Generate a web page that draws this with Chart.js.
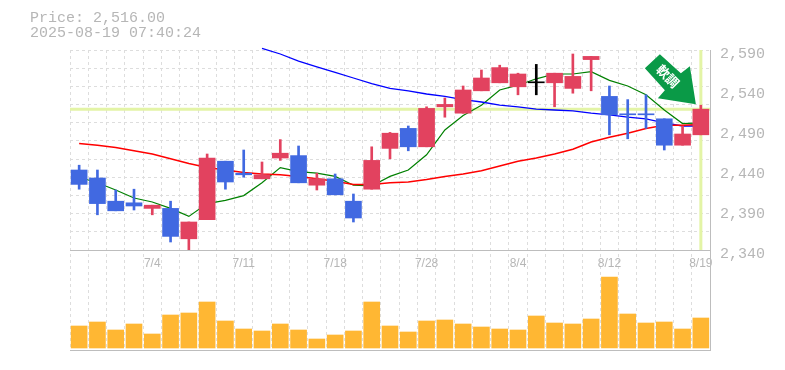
<!DOCTYPE html>
<html>
<head>
<meta charset="utf-8">
<title>Price chart</title>
<script src="https://cdn.jsdelivr.net/npm/chart.js@4"></script>
<style>
  html, body { margin: 0; padding: 0; background: #fff; }
  canvas { display: block; }
</style>
</head>
<body>
<canvas id="priceChart" width="785" height="370"></canvas>
<script>
const titleLines = ["Price: 2,516.00", "2025-08-19 07:40:24"];
const signalText = "軟調";

const dates = ["6/30", "7/1", "7/2", "7/3", "7/4", "7/7", "7/8", "7/9", "7/10", "7/11", "7/14", "7/15",
  "7/16", "7/17", "7/18", "7/22", "7/23", "7/24", "7/25", "7/28", "7/29", "7/30", "7/31", "8/1", "8/4",
  "8/5", "8/6", "8/7", "8/8", "8/12", "8/13", "8/14", "8/15", "8/18", "8/19"];
const dateLabels = ["7/4", "7/11", "7/18", "7/28", "8/4", "8/12", "8/19"];

const opens = [2440, 2430, 2401, 2399, 2392, 2392, 2354, 2378, 2451, 2436, 2429, 2455, 2458, 2421, 2429, 2401, 2416,
  2467, 2492, 2469, 2519, 2511, 2539, 2549, 2544, 2549, 2549, 2542, 2578, 2532, 2510, 2510, 2504, 2471, 2484];
const closes = [2422, 2398, 2389, 2395, 2396, 2357, 2375, 2455, 2425, 2434, 2434, 2461, 2424, 2429, 2409, 2380, 2452,
  2486, 2469, 2517, 2522, 2540, 2555, 2568, 2560, 2549, 2561, 2557, 2582, 2509, 2509, 2509, 2471, 2485, 2516];
const highs = [2446, 2440, 2415, 2416, 2396, 2401, 2375, 2460, 2451, 2465, 2450, 2478, 2470, 2436, 2435, 2410, 2469,
  2487, 2495, 2519, 2530, 2545, 2565, 2571, 2561, 2572, 2561, 2585, 2582, 2545, 2528, 2534, 2504, 2495, 2521];
const lows = [2416, 2384, 2389, 2390, 2384, 2350, 2339, 2378, 2416, 2431, 2429, 2452, 2424, 2415, 2409, 2375, 2416,
  2454, 2464, 2469, 2506, 2511, 2539, 2549, 2534, 2534, 2519, 2536, 2539, 2484, 2479, 2492, 2465, 2471, 2484];

const maShort = [2431, 2424, 2415, 2405, 2400, 2392, 2382, 2398, 2402, 2408, 2424, 2443, 2438, 2436, 2432, 2421, 2420,
  2432, 2440, 2459, 2490, 2508, 2521, 2540, 2546, 2554, 2560, 2560, 2563, 2552, 2545, 2534, 2515, 2498, 2499];
const maMid = [2473, 2471, 2468, 2464, 2460, 2454, 2448, 2443, 2440, 2437, 2435, 2434, 2432, 2429, 2426, 2422, 2422,
  2424, 2425, 2428, 2432, 2435, 2439, 2445, 2451, 2455, 2460, 2466, 2475, 2481, 2486, 2492, 2496, 2496, 2497];
const maLong = [null, null, null, null, null, null, null, null, null, null, 2592, 2585, 2576, 2569, 2562, 2555, 2548,
  2542, 2539, 2535, 2532, 2528, 2525, 2521, 2519, 2516, 2515, 2514, 2511, 2509, 2506, 2504, 2499, 2495, 2495];

const volumes = [22, 26, 18, 24, 14, 33, 35, 46, 27, 19, 17, 24, 18, 9, 13, 17, 46, 22,
  16, 27, 28, 24, 21, 19, 18, 32, 25, 24, 29, 71, 34, 25, 26, 19, 30];

const lastPrice = 2516;
const priceTicks = [2340, 2390, 2440, 2490, 2540, 2590];
const gridRows = [0, 1, 2, 3, 4, 5, 6, 7, 8, 9, 10, 11];

const UP = "#e2425f";
const DOWN = "#4169e1";
const TEXT = "#b6b6b6";
const GRID = "#dddddd";
const FRAME = "#bdbdbd";
const GUIDE = "#e3f4a6";

function candleColor(i) {
  if (opens[i] === closes[i]) return "#000000";
  return closes[i] > opens[i] ? UP : DOWN;
}
const candleColors = dates.map((d, i) => candleColor(i));

function setTicks(values) {
  return scale => { scale.ticks = values.map(v => ({ value: v })); };
}

// last price lines and the green signal arrow
const overlayPlugin = {
  id: "overlay",
  beforeDatasetsDraw(chart) {
    const { ctx, chartArea, scales } = chart;
    const py = scales.y.getPixelForValue(lastPrice);
    const px = scales.x.getPixelForValue(dates.length - 1);
    ctx.save();
    ctx.strokeStyle = GUIDE;
    ctx.lineWidth = 3;
    ctx.beginPath();
    ctx.moveTo(chartArea.left, py);
    ctx.lineTo(chartArea.right, py);
    ctx.moveTo(px, scales.y.top);
    ctx.lineTo(px, scales.y.bottom);
    ctx.stroke();
    ctx.restore();
  },
  afterDatasetsDraw(chart) {
    const { ctx, scales } = chart;
    const tipX = scales.x.getPixelForValue(dates.length - 1) - 5;
    const tipY = scales.y.getPixelForValue(lastPrice) - 5;
    const outline = [[0, 0], [-38, -6], [-31, -14], [-51, -36], [-36, -50], [-15, -31], [-6, -38]];
    ctx.save();
    ctx.fillStyle = "#0a9a47";
    ctx.beginPath();
    outline.forEach(p => ctx.lineTo(tipX + p[0], tipY + p[1]));
    ctx.closePath();
    ctx.fill();
    ctx.translate(tipX - 28, tipY - 28);
    ctx.rotate(Math.PI / 4);
    ctx.fillStyle = "#ffffff";
    ctx.font = "bold 13px 'Noto Sans CJK JP'";
    ctx.textAlign = "center";
    ctx.textBaseline = "middle";
    ctx.fillText(signalText, 0, 0);
    ctx.restore();
  }
};

function maDataset(values, color, width, order) {
  return {
    type: "line",
    data: values,
    borderColor: color,
    borderWidth: width,
    pointRadius: 0,
    tension: 0,
    clip: false,
    spanGaps: false,
    yAxisID: "y",
    order: order
  };
}

new Chart(document.getElementById("priceChart"), {
  data: {
    labels: dates,
    datasets: [
      {
        type: "bar",
        data: opens.map((o, i) => [o, closes[i]]),
        backgroundColor: candleColors,
        barThickness: 16,
        minBarLength: 1,
        grouped: false,
        yAxisID: "y",
        order: 1
      },
      {
        type: "bar",
        data: lows.map((l, i) => [l, highs[i]]),
        backgroundColor: candleColors,
        barThickness: 2,
        grouped: false,
        yAxisID: "y",
        order: 2
      },
      maDataset(maMid, "#ff0000", 1.5, 3),
      maDataset(maLong, "#0000ff", 1.3, 4),
      maDataset(maShort, "#008000", 1.2, 5),
      {
        type: "bar",
        data: volumes,
        backgroundColor: "#ffb733",
        barThickness: 16,
        grouped: false,
        yAxisID: "yVol",
        order: 6
      }
    ]
  },
  options: {
    responsive: false,
    animation: false,
    events: [],
    layout: { padding: { left: 30, right: 0, top: 0, bottom: 20 } },
    plugins: {
      legend: { display: false },
      tooltip: { enabled: false },
      title: {
        display: true,
        text: titleLines,
        align: "start",
        color: TEXT,
        font: { family: "'Liberation Mono'", size: 15, weight: "normal", lineHeight: 1 },
        padding: { top: 11, bottom: 9 }
      }
    },
    scales: {
      x: {
        type: "category",
        position: { y: 2340 },
        offset: true,
        grid: { offset: true, color: GRID, drawTicks: false },
        border: { color: FRAME, dash: [3, 3] },
        ticks: {
          autoSkip: false,
          maxRotation: 0,
          padding: 6,
          color: TEXT,
          font: { family: "'Liberation Sans'", size: 12 },
          callback(value) {
            const label = this.getLabelForValue(value);
            return dateLabels.includes(label) ? label : "";
          }
        }
      },
      y: {
        position: "right",
        stack: "right",
        stackWeight: 2,
        min: 2340,
        max: 2590,
        afterBuildTicks: setTicks(priceTicks),
        afterFit(scale) { scale.width = 75; },
        grid: { display: false, drawTicks: false },
        border: { color: FRAME },
        ticks: {
          padding: 10,
          labelOffset: 4,
          color: TEXT,
          font: { family: "'Liberation Mono'", size: 15 },
          callback: v => v.toLocaleString("en-US")
        }
      },
      yVol: {
        position: "right",
        stack: "right",
        stackWeight: 1,
        min: -2,
        max: 98,
        afterBuildTicks: setTicks([-2]),
        afterFit(scale) { scale.width = 75; },
        grid: { color: FRAME, drawTicks: false },
        border: { color: FRAME },
        ticks: { display: false }
      },
      // spans price and volume panels; the rows stop where the price panel ends
      yGrid: {
        position: "left",
        reverse: true,
        min: 0,
        max: 16.5,
        afterBuildTicks: setTicks(gridRows),
        afterFit(scale) { scale.width = 40; },
        grid: { color: GRID, drawTicks: false },
        border: { display: false, dash: [3, 3] },
        ticks: { display: false }
      }
    }
  },
  plugins: [overlayPlugin]
});
</script>
</body>
</html>
